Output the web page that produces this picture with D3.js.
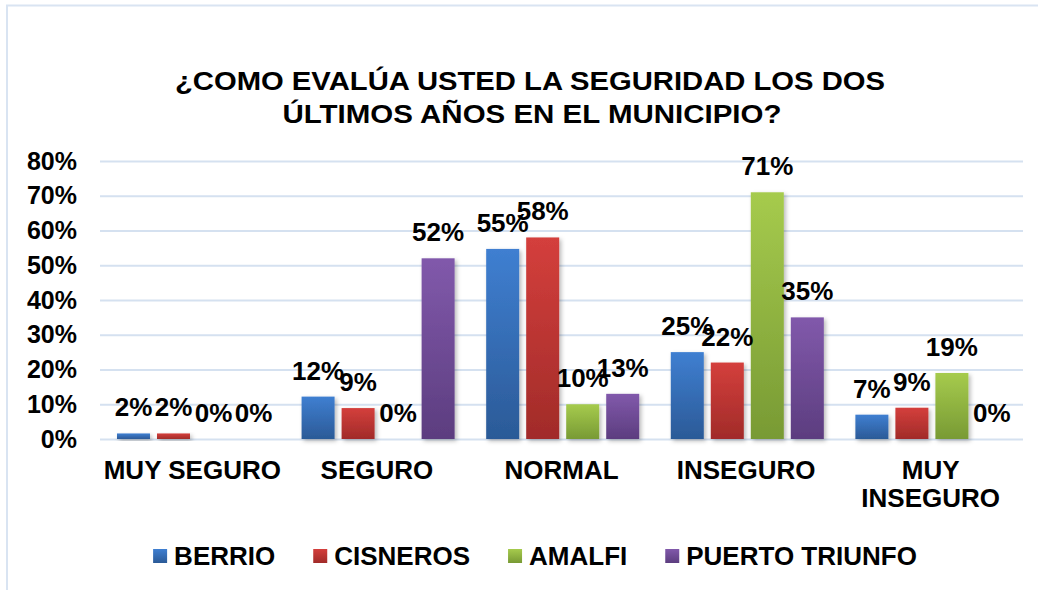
<!DOCTYPE html>
<html>
<head>
<meta charset="utf-8">
<script src="https://cdn.jsdelivr.net/npm/d3@7"></script>
<style>
  body { margin: 0; background: #fff; }
  svg text { font-family: "Liberation Sans", Arial, sans-serif; font-weight: bold; fill: #000; }
</style>
</head>
<body>
<svg id="chart"></svg>
<script>
// ---------------- data ----------------
const categories = ['MUY SEGURO', 'SEGURO', 'NORMAL', 'INSEGURO', 'MUY INSEGURO'];
const seriesNames = ['BERRIO', 'CISNEROS', 'AMALFI', 'PUERTO TRIUNFO'];
const berrio = [0.016, 0.122, 0.547, 0.25, 0.07];
const cisneros = [0.016, 0.089, 0.58, 0.22, 0.09];
const amalfi = [0, 0, 0.10, 0.71, 0.19];
const puertoTriunfo = [0, 0.52, 0.13, 0.35, 0];
const yTicks = [0, 0.1, 0.2, 0.3, 0.4, 0.5, 0.6, 0.7, 0.8];
const titleLines = ['¿COMO EVALÚA USTED LA SEGURIDAD LOS DOS', 'ÚLTIMOS AÑOS EN EL MUNICIPIO?'];

const seriesValues = [berrio, cisneros, amalfi, puertoTriunfo];

// ---------------- setup ----------------
const width = 1038, height = 590;
const plot = { left: 100, right: 1023, top: 161, bottom: 439 };

// gradient colours top -> bottom, one per series
const gradColors = [
  ['#3f7fd1', '#2b5a97'],
  ['#d43f3c', '#a12b29'],
  ['#a6cb4d', '#789a34'],
  ['#8159ab', '#5c3d7f']
];

const svg = d3.select('#chart')
  .attr('width', width)
  .attr('height', height);

const defs = svg.append('defs');
gradColors.forEach((c, i) => {
  const g = defs.append('linearGradient')
    .attr('id', 'grad' + i)
    .attr('x1', 0).attr('y1', 0).attr('x2', 0).attr('y2', 1);
  g.append('stop').attr('offset', '0%').attr('stop-color', c[0]);
  g.append('stop').attr('offset', '100%').attr('stop-color', c[1]);
});
defs.append('filter')
  .attr('id', 'shadow')
  .attr('x', '-20%').attr('y', '-20%').attr('width', '150%').attr('height', '150%')
  .append('feDropShadow')
  .attr('dx', 2).attr('dy', 2).attr('stdDeviation', 2)
  .attr('flood-color', '#000').attr('flood-opacity', 0.28);

// ------- chart frame
svg.append('rect')
  .attr('x', 7).attr('y', 5.5)
  .attr('width', 1060).attr('height', 620)
  .attr('fill', 'none')
  .attr('stroke', '#d9e4f2')
  .attr('stroke-width', 2);

// ------- title
svg.selectAll('.title')
  .data(titleLines)
  .enter().append('text')
  .attr('class', 'title')
  .attr('x', (d, i) => i === 0 ? 530 : 532)
  .attr('y', (d, i) => 90 + i * 33)
  .attr('text-anchor', 'middle')
  .style('font-size', '26px')
  .attr('textLength', (d, i) => i === 0 ? 710 : 499)
  .attr('lengthAdjust', 'spacingAndGlyphs')
  .text(d => d);

// ---------------- scales ----------------
const x0 = d3.scaleBand()
  .domain(categories)
  .range([plot.left, plot.right]);

const x1 = d3.scaleBand()
  .domain(seriesNames)
  .range([x0.bandwidth() * 0.092, x0.bandwidth() * 0.921])
  .paddingInner(0.175);

const y = d3.scaleLinear()
  .domain([0, 0.8])
  .range([plot.bottom, plot.top]);

const pct = d3.format('.0%');

// ------- gridlines
svg.append('g')
  .attr('class', 'grid')
  .attr('transform', `translate(${plot.left},0)`)
  .call(d3.axisLeft(y).tickValues(yTicks).tickSize(-(plot.right - plot.left)).tickFormat(''))
  .call(g => g.select('.domain').remove())
  .call(g => g.selectAll('line').attr('stroke', '#d5e1f0').attr('stroke-width', 2));

// ------- y axis labels
svg.append('g')
  .attr('transform', `translate(${plot.left},0)`)
  .call(d3.axisLeft(y).tickValues(yTicks).tickSize(0).tickPadding(23).tickFormat(pct))
  .call(g => g.select('.domain').remove())
  .call(g => g.selectAll('text').style('font-size', '25px').attr('fill', '#000'));

// ------- x axis labels
const xAxis = svg.append('g')
  .attr('transform', `translate(0,${plot.bottom})`)
  .call(d3.axisBottom(x0).tickSize(0).tickPadding(22))
  .call(g => g.select('.domain').remove());
xAxis.selectAll('text')
  .style('font-size', '26px')
  .attr('fill', '#000')
  .each(function (d) {
    const t = d3.select(this);
    if (this.getComputedTextLength() > x0.bandwidth()) {
      const words = d.split(' ');
      t.text(null);
      words.forEach((w, i) => {
        t.append('tspan')
          .attr('x', 0)
          .attr('dy', i === 0 ? '0.71em' : '1.04em')
          .text(w);
      });
      t.attr('dy', null);
    }
  });

// ------- bars
const groups = svg.selectAll('.cat')
  .data(categories)
  .enter().append('g')
  .attr('class', 'cat')
  .attr('transform', d => `translate(${x0(d)},0)`);

groups.selectAll('rect')
  .data((c, ci) => seriesNames.map((s, si) => ({ s, si, v: seriesValues[si][ci] })))
  .enter().append('rect')
  .filter(d => d.v > 0)
  .attr('x', d => x1(d.s))
  .attr('y', d => y(d.v))
  .attr('width', x1.bandwidth())
  .attr('height', d => y(0) - y(d.v))
  .attr('fill', d => `url(#grad${d.si})`)
  .attr('filter', 'url(#shadow)');

// ------- data labels
groups.selectAll('.lbl')
  .data((c, ci) => seriesNames.map((s, si) => ({ s, si, v: seriesValues[si][ci] })))
  .enter().append('text')
  .attr('class', 'lbl')
  .attr('x', d => x1(d.s) + x1.bandwidth() / 2)
  .attr('y', d => y(d.v) - 17)
  .attr('text-anchor', 'middle')
  .style('font-size', '26px')
  .text(d => pct(d.v));

// ------- legend
const legend = svg.append('g').attr('class', 'legend');
let lx = 0;
seriesNames.forEach((s, i) => {
  const item = legend.append('g').attr('transform', `translate(${lx},0)`);
  item.append('rect')
    .attr('x', 0).attr('y', 549)
    .attr('width', 14).attr('height', 14)
    .attr('fill', `url(#grad${i})`);
  const t = item.append('text')
    .attr('x', 21).attr('y', 565)
    .style('font-size', '26px')
    .text(s);
  lx += 21 + t.node().getComputedTextLength() + 38;
});
lx -= 38;
legend.attr('transform', `translate(${535 - lx / 2},0)`);
</script>
</body>
</html>
